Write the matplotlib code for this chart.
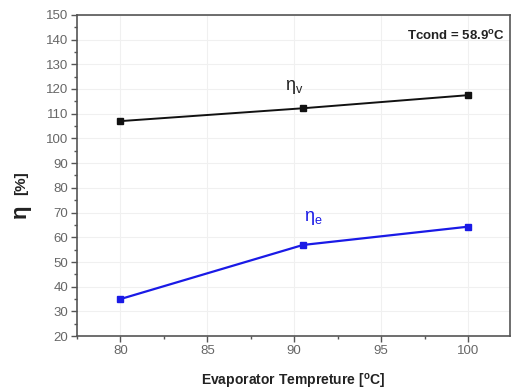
import matplotlib
matplotlib.use("Agg")
import matplotlib.pyplot as plt
from matplotlib.ticker import MultipleLocator

# Evaporator temperature [°C]
evap_temp = [80, 90.5, 100]
# Volumetric efficiency eta_v [%]
eta_v = [107, 112.2, 117.5]
# Isentropic efficiency eta_e [%]
eta_e = [35, 56.9, 64.3]

x_ticks = [80, 85, 90, 95, 100]
y_ticks = list(range(20, 151, 10))

plt.rcParams['font.family'] = ['Liberation Sans', 'DejaVu Sans']
plt.rcParams['mathtext.default'] = 'regular'

fig = plt.figure(figsize=(5.12, 3.90), dpi=100)
ax = fig.add_axes([0.150, 0.138, 0.846, 0.824])

axis_col = '#555555'
ax.plot(evap_temp, eta_v, color='#111111', lw=1.4, marker='s', ms=5, zorder=3)
ax.plot(evap_temp, eta_e, color='#1a1ae6', lw=1.6, marker='s', ms=5, zorder=3)

ax.set_xlim(77.5, 102.4)
ax.set_ylim(20, 150)
ax.set_xticks(x_ticks)
ax.set_yticks(y_ticks)
ax.xaxis.set_minor_locator(MultipleLocator(2.5))
ax.yaxis.set_minor_locator(MultipleLocator(5))
ax.grid(True, which='major', color='#f0f0f0', lw=0.8, zorder=0)

for s in ax.spines.values():
    s.set_color(axis_col)
    s.set_linewidth(1.2)
ax.tick_params(which='major', direction='out', length=4, width=1, color=axis_col,
               labelsize=9.5, labelcolor='#666666', pad=2)
ax.tick_params(which='minor', direction='out', length=2.5, width=1, color=axis_col)
ax.tick_params(top=False, right=False, which='both')

ax.set_xlabel('Evaporator Tempreture [$^{o}$C]', fontsize=10, fontweight='bold',
              color='#222222', labelpad=11)
fig.text(0.040, 0.458, 'η', fontsize=16, fontweight='bold', rotation=90,
         ha='center', va='center', color='#222222')
fig.text(0.041, 0.531, '[%]', fontsize=11, fontweight='bold', rotation=90,
         ha='center', va='center', color='#222222')

ax.text(0.988, 0.955, 'Tcond = 58.9$^{o}$C', transform=ax.transAxes,
        ha='right', va='top', fontsize=9.5, fontweight='bold', color='#222222')
ax.text(90.0, 121.0, '$\\eta_v$', fontsize=13, color='#222222', ha='center', va='center')
ax.text(91.1, 68, '$\\eta_e$', fontsize=13, color='#1a1ae6', ha='center', va='center')

fig.savefig('out.png', dpi=100)
